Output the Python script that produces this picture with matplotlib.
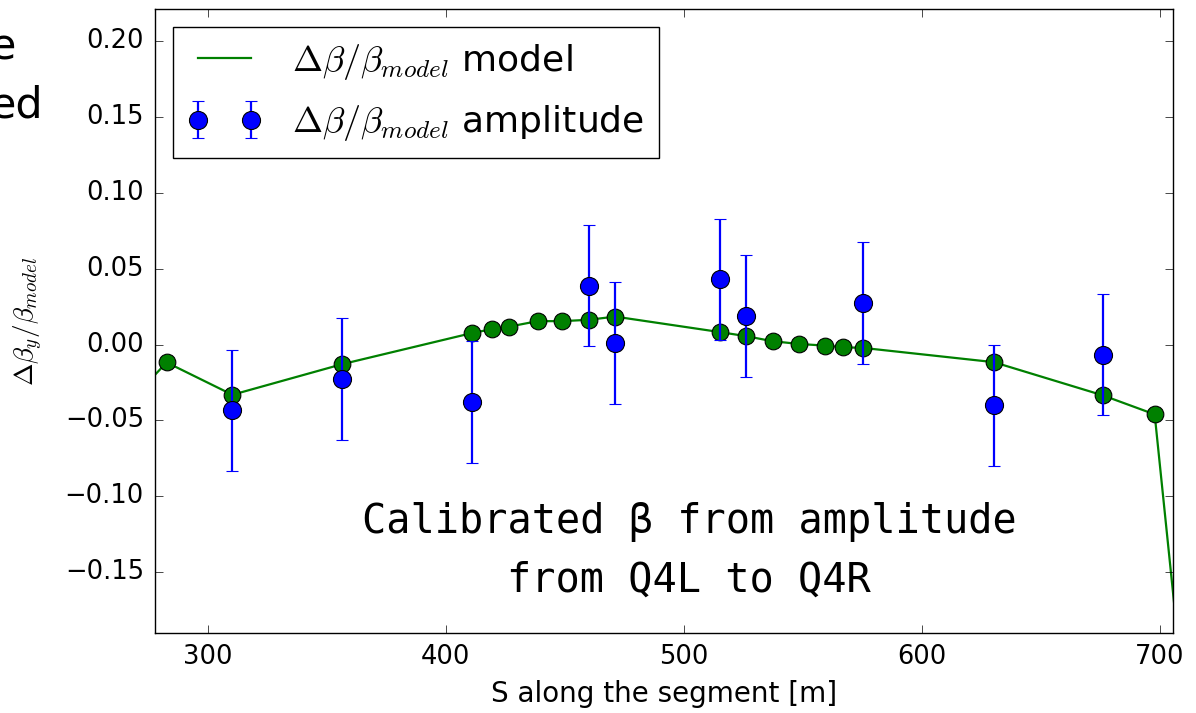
import matplotlib
matplotlib.use('Agg')
import matplotlib.pyplot as plt

plt.style.use('classic')

# model beta-beating along the segment
s_model = [270.0, 282.8, 310.4, 356.6, 410.9, 419.3, 426.7, 438.6, 449.0, 460.1, 471.2,
           515.2, 526.2, 537.3, 548.2, 559.2, 566.8, 575.2, 630.2, 675.9, 697.8, 708.5]
beta_model = [-0.033, -0.0118, -0.0331, -0.0129, 0.0075, 0.0101, 0.0118, 0.0154, 0.0154,
              0.0163, 0.0184, 0.0082, 0.0055, 0.0022, 0.0004, -0.0007, -0.0018, -0.0022,
              -0.0116, -0.0334, -0.046, -0.209]

# measured from amplitude
s_meas = [310.4, 356.6, 410.9, 460.1, 471.2, 515.2, 526.2, 575.2, 630.2, 675.9]
beta_meas = [-0.0434, -0.0228, -0.0379, 0.0388, 0.0009, 0.0429, 0.0189, 0.0273, -0.040, -0.0067]
beta_err = [0.04, 0.04, 0.04, 0.04, 0.04, 0.04, 0.04, 0.04, 0.04, 0.04]

fig = plt.figure(figsize=(11.96, 7.13), dpi=100, facecolor='white')
ax = fig.add_axes([155 / 1196, 1 - 633 / 713, 1018 / 1196, 624 / 713])

ax.plot(s_model, beta_model, '-', color='g', lw=1.6,
        label=r'$\Delta\beta/\beta_{model}$ model')
ax.plot(s_model, beta_model, 'o', color='g', ms=12, mec='k', mew=0.8)
ax.errorbar(s_meas, beta_meas, yerr=beta_err, fmt='o', color='b', ms=13, mec='k', mew=0.8,
            elinewidth=1.6, capsize=4.5, capthick=1.6,
            label=r'$\Delta\beta/\beta_{model}$ amplitude')

ax.set_xlim(277.9, 705.5)
ax.set_ylim(-0.19, 0.221)
ax.set_xticks([300, 400, 500, 600, 700])
ax.set_yticks([-0.15, -0.10, -0.05, 0.00, 0.05, 0.10, 0.15, 0.20])
ax.tick_params(axis='both', which='major', labelsize=18.5, length=6, pad=8)

ax.set_xlabel('S along the segment [m]', fontsize=20)
ax.xaxis.set_label_coords(0.5, -0.076)
ax.set_ylabel(r'$\Delta\beta_y/\beta_{model}$', fontsize=19.5)
ax.yaxis.set_label_coords(-0.108, 0.5)

leg = ax.legend(loc='upper left', fontsize=26, numpoints=2, borderpad=0.4,
                handlelength=2.07, handletextpad=0.83, labelspacing=0.6, fancybox=False)
leg.get_frame().set_linewidth(1.0)

ax.text(0.5246, 0.131, 'Calibrated \u03b2 from amplitude\nfrom Q4L to Q4R',
        transform=ax.transAxes, ha='center', va='center', multialignment='center',
        family='DejaVu Sans Mono', fontsize=29, linespacing=1.62)

# fragments of slide text cut off at the left edge
fig.text(16 / 1196, 1 - 60 / 713, 'e', ha='right', va='baseline', fontsize=31)
fig.text(43 / 1196, 1 - 117 / 713, 'ed', ha='right', va='baseline', fontsize=31)

fig.savefig('out.png', dpi=100, facecolor='white')
